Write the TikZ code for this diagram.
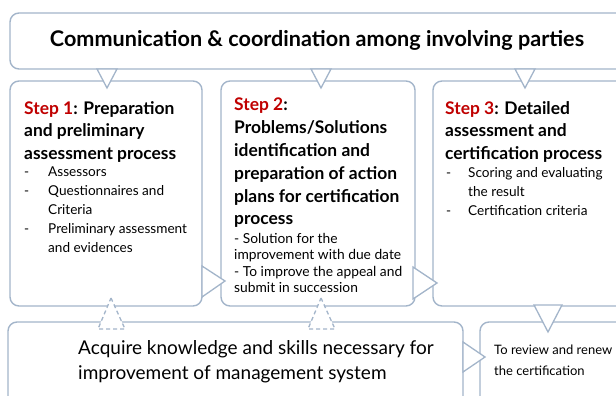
\documentclass[tikz,border=0pt]{standalone}
\usepackage{fontspec}
\setmainfont{Lato}
\definecolor{edge}{HTML}{A3B5CA}
\definecolor{stepred}{HTML}{C00000}
\tikzset{
  panel/.style={draw=edge, line width=1.4pt, rounded corners=9pt, fill=white},
  pointer/.style={draw=edge, line width=1.3pt, fill=white, line join=miter},
  dpointer/.style={pointer, dash pattern=on 4pt off 3pt},
  body/.style={anchor=north west, inner sep=0pt, align=left},
  head/.style={body, font=\fontsize{17.4}{22.5}\selectfont\bfseries},
}
\newcommand{\stp}[1]{\textcolor{stepred}{#1}}
\begin{document}
\begin{tikzpicture}[x=1pt,y=-1pt]
\useasboundingbox (0,0) rectangle (616,396);
\clip (0,0) rectangle (616,396);

% boxes
\draw[panel] (10,13) rectangle (640,69);
\draw[panel] (10,81) rectangle (202,306);
\draw[panel] (221,81) rectangle (415,306);
\draw[panel] (433,81) rectangle (640,306);
\draw[panel] (8,322) rectangle (463,420);
\draw[panel] (480,322) rectangle (640,420);

% pointers from the coordination box
\draw[pointer] (97,69) -- (117,69) -- (107,88) -- cycle;
\draw[pointer] (311,69) -- (331,69) -- (321,88) -- cycle;
\draw[pointer] (515,69) -- (535,69) -- (525,88) -- cycle;

% pointers between steps
\draw[pointer] (202,266) -- (202,297) -- (225,281) -- cycle;
\draw[pointer] (413,267) -- (413,299) -- (437,283) -- cycle;
\draw[pointer] (534,305) -- (562,305) -- (548,332) -- cycle;
\draw[pointer] (463,342) -- (463,372) -- (485,357) -- cycle;

% dashed feedback pointers
\draw[dpointer] (111,298) -- (125,329) -- (98,329) -- cycle;
\draw[dpointer] (321,298) -- (335,329) -- (308,329) -- cycle;

% texts
\node[font=\fontsize{21.6}{26}\selectfont\bfseries] (title) at (317,40)
  {Communication \& coordination among involving parties};

\node[head] (s1) at (24,101)
  {\stp{Step 1}: Preparation\\and preliminary\\assessment process};
\node[body, font=\fontsize{13.6}{19}\selectfont] (s1l) at (24,167) {%
  \makebox[24pt][l]{-}Assessors\\
  \makebox[24pt][l]{-}Questionnaires and\\
  \hspace*{24pt}Criteria\\
  \makebox[24pt][l]{-}Preliminary assessment\\
  \hspace*{24pt}and evidences};

\node[head, font=\fontsize{17.4}{22.8}\selectfont\bfseries] (s2) at (234,98)
  {\stp{Step 2}:\\Problems/Solutions\\identification and\\preparation of action\\plans for certification\\process};
\node[body, font=\fontsize{13.8}{16.5}\selectfont] (s2l) at (234,233) {%
  - Solution for the\\
  improvement with due date\\
  - To improve the appeal and\\
  submit in succession};

\node[head] (s3) at (445,101)
  {\stp{Step 3}: Detailed\\assessment and\\certification process};
\node[body, font=\fontsize{13.6}{19}\selectfont] (s3l) at (446,167) {%
  \makebox[22pt][l]{-}Scoring and evaluating\\
  \hspace*{22pt}the result\\
  \makebox[22pt][l]{-}Certification criteria};

\node[body, font=\fontsize{19}{25}\selectfont] (acq) at (78,340) {%
  Acquire knowledge and skills necessary for\\
  improvement of management system};

\node[body, font=\fontsize{13}{21}\selectfont] (rev) at (494,345) {%
  To review and renew\\the certification};
\end{tikzpicture}
\end{document}
